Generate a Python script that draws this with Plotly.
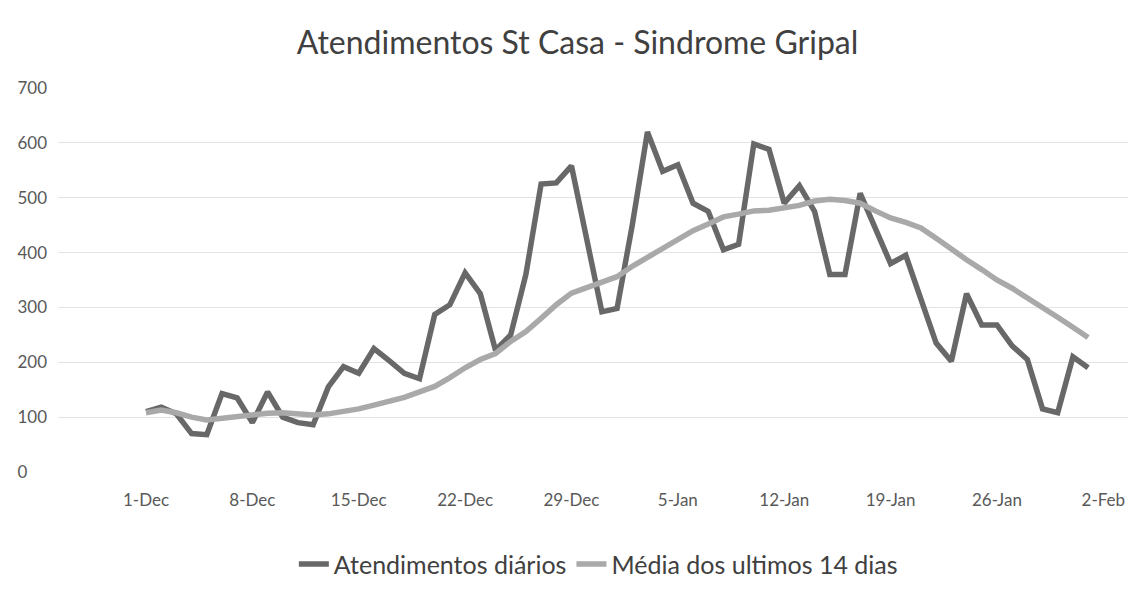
import pandas as pd
import plotly.graph_objects as go

dates = pd.date_range("2021-12-01", "2022-02-01", freq="D")

atendimentos_diarios = [
    110, 118, 106, 70, 68, 143, 135, 90, 146, 100,
    90, 86, 155, 192, 180, 225, 203, 180, 170, 287,
    305, 363, 325, 222, 250, 360, 525, 527, 558, 420,
    292, 298, 450, 620, 548, 560, 490, 475, 405, 415,
    598, 588, 490, 522, 475, 360, 360, 508, 445, 380,
    395, 315, 235, 202, 325, 268, 268, 230, 205, 115,
    108, 210, 190,
]

media_14_dias = [
    108, 113, 108, 100, 95, 98, 102, 104, 107, 108,
    106, 104, 106, 110, 115, 122, 128, 136, 146, 156,
    172, 190, 205, 216, 238, 256, 280, 305, 326, 336,
    345, 356, 375, 391, 408, 422, 440, 452, 465, 470,
    476, 477, 481, 486, 494, 497, 495, 490, 476, 463,
    455, 445, 426, 405, 387, 369, 350, 335, 318, 300,
    282, 264, 245,
]

tick_dates = pd.date_range("2021-12-01", "2022-02-02", freq="7D")
tick_labels = ["1-Dec", "8-Dec", "15-Dec", "22-Dec", "29-Dec",
               "5-Jan", "12-Jan", "19-Jan", "26-Jan", "2-Feb"]
y_ticks = [0, 100, 200, 300, 400, 500, 600, 700]
# left-aligned look: pad the single-digit label with figure spaces
y_tick_labels = ["0\u2007\u2007", "100", "200", "300", "400", "500", "600", "700"]

FONT = "Lato, 'Open Sans', sans-serif"

fig = go.Figure()
fig.add_trace(go.Scatter(
    x=dates, y=atendimentos_diarios, mode="lines",
    name="Atendimentos diários",
    line=dict(color="#686868", width=5.5),
))
fig.add_trace(go.Scatter(
    x=dates, y=media_14_dias, mode="lines",
    name="Média dos ultimos 14 dias",
    line=dict(color="#a9a9a9", width=5.5),
))

fig.update_layout(
    width=1139, height=600,
    paper_bgcolor="white", plot_bgcolor="white",
    margin=dict(l=50, r=19, t=80, b=136),
    title=dict(text="Atendimentos St Casa - Sindrome Gripal",
               x=0.5, xanchor="center", y=0.942, yanchor="middle",
               font=dict(family=FONT, size=32, color="#404040")),
    font=dict(family=FONT, color="#595959"),
    showlegend=True,
    legend=dict(orientation="h", x=0.505, xanchor="center", y=-0.24, yanchor="middle",
                font=dict(family=FONT, size=25, color="#404040"),
                itemwidth=30, traceorder="normal"),
)
fig.update_xaxes(
    range=[pd.Timestamp("2021-11-25 05:00"), pd.Timestamp("2022-02-03 15:00")],
    tickvals=tick_dates, ticktext=tick_labels,
    showgrid=False, zeroline=False, showline=False,
    tickfont=dict(family=FONT, size=17, color="#595959"),
    ticks="", ticklabelstandoff=16, automargin=False,
)
fig.update_yaxes(
    range=[0, 700], tickvals=y_ticks, ticktext=y_tick_labels,
    showgrid=True, gridcolor="#e3e3e3", gridwidth=1,
    zeroline=False, showline=False,
    tickfont=dict(family=FONT, size=17, color="#595959"),
    ticks="", ticklabelstandoff=10, automargin=False,
)

fig.write_html("out.html")
